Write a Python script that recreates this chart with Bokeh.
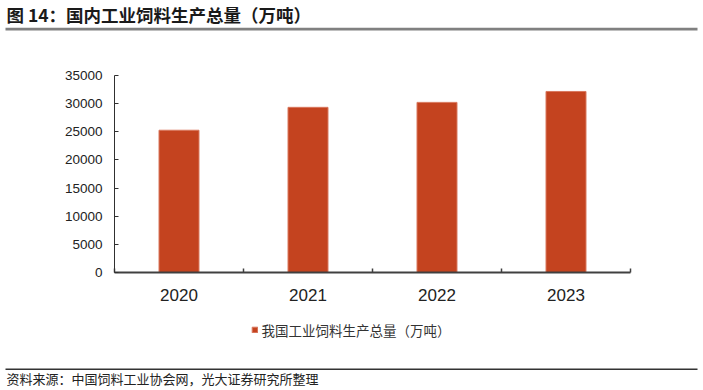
from bokeh.plotting import figure
from bokeh.models import (Range1d, FixedTicker, NumeralTickFormatter, Label,
                          BoxAnnotation, Legend, LegendItem, ColumnDataSource)
from bokeh.embed import file_html
from bokeh.resources import INLINE

# ---- data ----
years = ["2020", "2021", "2022", "2023"]
output = [25276, 29344, 30223, 32163]
y_ticks = [0, 5000, 10000, 15000, 20000, 25000, 30000, 35000]
title_text = "图 14：国内工业饲料生产总量（万吨）"
series_name = "我国工业饲料生产总量（万吨）"
source_text = "资料来源：中国饲料工业协会网，光大证券研究所整理"

BAR = "#C4431F"
CJK = "Noto Sans CJK SC"
NUM = "Liberation Sans"

# ---- page layout (pixels) ----
W, H = 703, 390
PLOT_L, PLOT_R, PLOT_T, PLOT_B = 114, 630, 75, 272   # chart area on the page

n = len(years)
x_per_px = n / (PLOT_R - PLOT_L)
y_per_px = y_ticks[-1] / (PLOT_B - PLOT_T)
x_range = Range1d(-PLOT_L * x_per_px, n + (W - PLOT_R) * x_per_px)
y_range = Range1d(-(H - PLOT_B) * y_per_px, y_ticks[-1] + PLOT_T * y_per_px)

xs = [i + 0.5 for i in range(n)]
src = ColumnDataSource(dict(x=xs, top=output, year=years))

p = figure(width=W, height=H, output_backend="svg", toolbar_location=None,
           x_range=x_range, y_range=y_range,
           min_border=0, min_border_left=0, min_border_right=0,
           min_border_top=0, min_border_bottom=0)
p.outline_line_color = None
p.xgrid.visible = False
p.ygrid.visible = False
p.background_fill_color = "white"
p.border_fill_color = "white"

r = p.vbar(x="x", top="top", width=0.31, source=src, fill_color=BAR,
           line_color="#D9785E", line_width=1)

# y axis, pinned at the left edge of the category span
ya = p.yaxis[0]
ya.fixed_location = 0
ya.bounds = (y_ticks[0], y_ticks[-1])
ya.ticker = FixedTicker(ticks=y_ticks)
ya.formatter = NumeralTickFormatter(format="0")
ya.axis_line_color = "#303030"
ya.axis_line_width = 1
ya.major_tick_in = 4
ya.major_tick_out = 0
ya.minor_tick_line_color = None
ya.major_tick_line_color = "#303030"
ya.major_label_standoff = 12
ya.major_label_text_font = NUM
ya.major_label_text_font_size = "13.5px"
ya.major_label_text_color = "#222222"

# x axis, pinned at y = 0
xa = p.xaxis[0]
xa.fixed_location = 0
xa.bounds = (0, n)
xa.ticker = FixedTicker(ticks=xs, minor_ticks=list(range(n + 1)))
xa.major_label_overrides = {x: y for x, y in zip(xs, years)}
xa.axis_line_color = "#404040"
xa.axis_line_width = 2
xa.major_tick_line_color = None
xa.minor_tick_in = 4
xa.minor_tick_out = 0
xa.minor_tick_line_color = "#404040"
xa.minor_tick_line_width = 1.5
xa.major_label_standoff = 10
xa.major_label_text_font = NUM
xa.major_label_text_font_size = "17px"
xa.major_label_text_color = "#222222"

legend = Legend(items=[LegendItem(label=series_name, renderers=[r])],
                location=(250.5, 50.5), orientation="horizontal",
                margin=0, padding=0, border_line_color=None,
                background_fill_alpha=0, glyph_width=7, glyph_height=7,
                label_standoff=4, label_text_font=CJK,
                label_text_font_size="13.5px", label_text_color="#333333")
p.add_layout(legend, "center")


def hrule(left, right, top_px, bottom_px, color):
    # top_px / bottom_px are measured from the top of the page
    return BoxAnnotation(left=left, right=right, bottom=H - bottom_px,
                         top=H - top_px,
                         left_units="screen", right_units="screen",
                         bottom_units="screen", top_units="screen",
                         fill_color=color, fill_alpha=1, line_color=None)


# title and its rule
p.add_layout(Label(x=6, y=H - 13.5, x_units="screen", y_units="screen",
                   text=title_text, text_font=CJK, text_font_size="17.5px",
                   text_font_style="bold", text_color="#1a1a1a",
                   text_baseline="middle", text_align="left"))
p.add_layout(hrule(5, 697, 27.3, 30, "#808080"))

# source rule and text
p.add_layout(hrule(5, 697, 368, 369.5, "#333333"))
p.add_layout(Label(x=6, y=H - 378, x_units="screen", y_units="screen",
                   text=source_text, text_font=CJK, text_font_size="13px",
                   text_color="#222222", text_baseline="middle",
                   text_align="left"))

open("out.html", "w").write(file_html(p, INLINE))
